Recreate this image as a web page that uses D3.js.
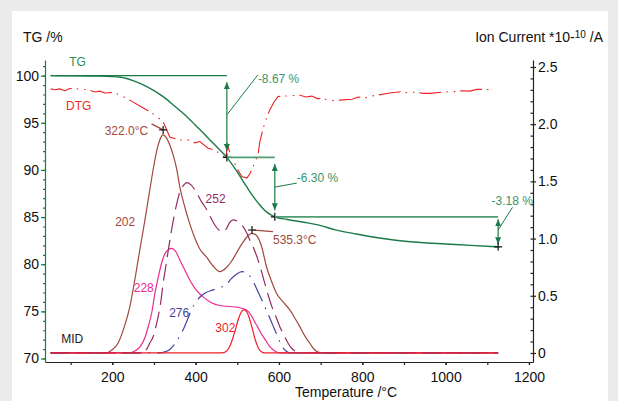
<!DOCTYPE html>
<html>
<head>
<meta charset="utf-8">
<script src="https://cdn.jsdelivr.net/npm/d3@7"></script>
<style>
  body { margin: 0; background: #ebebeb; }
  svg { display: block; font-family: "Liberation Sans", Arial, sans-serif; }
</style>
</head>
<body>
<svg width="618" height="401"></svg>
<script>
// ---- data ----
// TG mass curve (T in °C, mass %)
const tgData = [[52,100],[100,99.99],[170,99.95],[220,99.83],[250,99.47],[283,98.83],[322,97.77],[350,96.75],
  [379,95.65],[400,94.72],[427,93.53],[450,92.48],[475,91.33],[499,89.84],[522,88.25],[538,87.19],[554,86.29],
  [570,85.55],[590,85.03],[620,84.75],[660,84.45],[700,84.1],[735,83.64],[780,83.25],[829,82.86],[880,82.55],
  [940,82.3],[1000,82.15],[1060,82.0],[1126,81.85]];

// DTG (%/min)
const dtgData = [[52,-0.01],[62,-0.02],[74,-0.01],[86,-0.03],[98,-0.005],[118,-0.01],[142,-0.02],[158,-0.045],
  [170,-0.035],[182,-0.055],[197,-0.05],[211,-0.065],[226,-0.095],[242,-0.135],[266,-0.2],[283,-0.245],
  [302,-0.3],[322,-0.375],[338,-0.545],[362,-0.58],[379,-0.57],[398,-0.61],[410,-0.595],[430,-0.67],
  [446,-0.69],[463,-0.745],[473,-0.78],[476,-0.61],[480,-0.69],[490,-0.8],[500,-0.9],[511,-0.985],[523,-1.0],
  [530,-0.955],[538,-0.875],[550,-0.735],[554,-0.6],[562,-0.45],[571,-0.32],[578,-0.245],[588,-0.155],
  [598,-0.095],[614,-0.09],[631,-0.085],[650,-0.08],[665,-0.1],[679,-0.09],[694,-0.12],[703,-0.11],
  [718,-0.14],[746,-0.135],[775,-0.125],[790,-0.1],[806,-0.11],[821,-0.09],[835,-0.08],[866,-0.055],
  [895,-0.04],[910,-0.055],[929,-0.045],[946,-0.06],[962,-0.06],[994,-0.045],[1022,-0.04],[1039,-0.03],
  [1058,-0.035],[1075,-0.015],[1090,-0.015],[1113,-0.02]];

// MID ion currents (*10^-10 A)
const m202 = [[52,0],[185,0],[199,0.026],[214,0.087],[228,0.219],[242,0.402],[254,0.638],[266,0.9],[278,1.154],
  [290,1.425],[300,1.643],[307,1.774],[314,1.862],[322,1.906],[330,1.88],[338,1.818],[346,1.731],[355,1.6],
  [362,1.451],[374,1.276],[386,1.128],[398,1.005],[410,0.909],[426,0.839],[442,0.76],[458,0.711],[473,0.743],
  [485,0.795],[498,0.874],[511,0.953],[523,1.014],[535,1.046],[545,1.031],[558,0.935],[570,0.754],[581,0.638],
  [594,0.522],[610,0.446],[626,0.376],[638,0.306],[650,0.23],[662,0.149],[674,0.085],[686,0.026],[698,0.004],
  [710,0],[1126,0]];
const m228 = [[52,0],[238,0],[254,0.017],[266,0.052],[278,0.131],[286,0.227],[295,0.358],[302,0.516],[310,0.656],
  [319,0.795],[329,0.883],[342,0.915],[353,0.883],[362,0.813],[374,0.726],[386,0.638],[401,0.551],[418,0.49],
  [439,0.437],[458,0.415],[482,0.406],[502,0.398],[522,0.376],[533,0.332],[542,0.271],[550,0.219],[558,0.166],
  [569,0.105],[578,0.055],[590,0.017],[602,0],[1126,0]];
const m252 = [[52,0],[262,0],[274,0.013],[283,0.035],[290,0.087],[298,0.142],[305,0.236],[310,0.317],[317,0.463],
  [322,0.609],[329,0.769],[334,0.89],[343,1.09],[348,1.19],[355,1.309],[362,1.407],[370,1.46],[379,1.489],
  [389,1.469],[403,1.396],[413,1.329],[427,1.25],[437,1.18],[446,1.119],[456,1.075],[466,1.06],[475,1.093],
  [482,1.141],[490,1.163],[499,1.154],[511,1.119],[521,1.062],[530,0.988],[538,0.927],[547,0.842],[557,0.726],
  [566,0.609],[574,0.507],[583,0.405],[593,0.315],[602,0.23],[612,0.157],[622,0.085],[631,0.039],[641,0.013],
  [653,0],[1126,0]];
const m276 = [[52,0],[314,0],[326,0.009],[338,0.031],[350,0.079],[362,0.149],[372,0.219],[382,0.306],[391,0.385],
  [401,0.446],[413,0.498],[425,0.529],[442,0.551],[458,0.573],[473,0.594],[485,0.647],[497,0.686],[511,0.711],
  [521,0.704],[530,0.673],[540,0.612],[550,0.533],[559,0.463],[569,0.38],[578,0.306],[588,0.219],[598,0.131],
  [607,0.061],[617,0.017],[626,0],[1126,0]];
const m302 = [[52,0],[463,0],[473,0.013],[480,0.044],[487,0.105],[494.5,0.192],[502,0.288],[509,0.354],[515,0.376],
  [522,0.363],[528,0.315],[535,0.227],[542.5,0.122],[550,0.048],[557,0.013],[566,0],[1126,0]];

const seriesNames = ["202", "228", "252", "276", "302"];
const seriesData = [m202, m228, m252, m276, m302];

// TG steps
const stepStart = [52, 475, 590];
const stepEnd = [475, 590, 1126];
const stepFrom = [100, 91.33, 85.03];
const stepTo = [91.33, 85.03, 81.85];
const stepLabels = ["-8.67 %", "-6.30 %", "-3.18 %"];

// peaks of m/z 202
const peakT = [322.0, 535.3];
const peakIon = [1.95, 1.075];
const peakLabels = ["322.0°C", "535.3°C"];

// ticks
const xTicks = [200, 400, 600, 800, 1000, 1200];
const tgTicks = [70, 75, 80, 85, 90, 95, 100];
const ionTicks = [0, 0.5, 1.0, 1.5, 2.0, 2.5];

// ---- styles / layout ----
const green = "#1b7b48", greenText = "#3a9468";
const seriesColor = ["#a2483c", "#ec2a8e", "#962a66", "#43439f", "#f01e28"];
const seriesDash = [null, null, "17,7", "20,7,1.5,7", null];
const seriesLabelAt = [[231, 1.113], [275.6, 0.533], [448, 1.307], [360.6, 0.315], [471.4, 0.184]];
// [fraction along arrow, leader dx, leader dy, text dx, text dy]
const leaderLayout = [[0.48, 31, -40, 0, 8], [0.5, 22, -4, 0, -1.2], [0.44, 14.4, -22.7, -21, -2.3]];

const svg = d3.select("svg");
svg.append("rect").attr("x", 12).attr("y", 11).attr("width", 596).attr("height", 400).attr("fill", "#fff");

const x = d3.scaleLinear().domain([38.5, 1209.7]).range([45, 533]);
const yTG = d3.scaleLinear().domain([69.63, 101.66]).range([362, 60]);
const yIon = d3.scaleLinear().domain([-0.079, 2.561]).range([362, 60]);
const yDTG = d3.scaleLinear().domain([0, -1]).range([88, 178]);

// axes
function styleAxis(g, col) {
  g.selectAll("path,line").attr("stroke", col).attr("stroke-width", 1.2);
  g.selectAll("text").attr("fill", "#111").style("font-size", "14px").style("font-family", "Liberation Sans, Arial, sans-serif");
}
svg.append("g").attr("transform", "translate(0,362)")
  .call(d3.axisBottom(x).tickValues(d3.range(100, 1201, 100)).tickSize(3).tickSizeOuter(0).tickFormat(""))
  .call(g => styleAxis(g, "#222"));
svg.append("g").attr("transform", "translate(0,362)")
  .call(d3.axisBottom(x).tickValues(xTicks).tickSize(3).tickSizeOuter(0).tickPadding(7).tickFormat(d3.format("d")))
  .call(g => { styleAxis(g, "#222"); g.select(".domain").remove(); });

svg.append("g").attr("transform", "translate(45,0)")
  .call(d3.axisLeft(yTG).tickValues(d3.range(70, 102, 1)).tickSize(2).tickSizeOuter(0).tickFormat(""))
  .call(g => styleAxis(g, green));
svg.append("g").attr("transform", "translate(45,0)")
  .call(d3.axisLeft(yTG).tickValues(tgTicks).tickSize(4).tickSizeOuter(0).tickPadding(2))
  .call(g => { styleAxis(g, green); g.select(".domain").remove(); });

svg.append("g").attr("transform", "translate(533,0)")
  .call(d3.axisRight(yIon).tickValues(d3.range(0, 2.55, 0.1)).tickSize(-2.5).tickSizeOuter(0).tickFormat(""))
  .call(g => styleAxis(g, "#222"));
svg.append("g").attr("transform", "translate(533,0)")
  .call(d3.axisRight(yIon).tickValues(ionTicks).tickSize(3).tickSizeOuter(0).tickPadding(2)
    .tickFormat(d => d === 0 ? "0" : d.toFixed(1)))
  .call(g => { styleAxis(g, "#222"); g.select(".domain").remove(); });

// axis titles
svg.append("text").attr("x", 23).attr("y", 42).attr("font-size", 14).attr("fill", "#111").text("TG /%");
const ionTitle = svg.append("text").attr("x", 603).attr("y", 42).attr("font-size", 14)
  .attr("fill", "#111").attr("text-anchor", "end");
ionTitle.append("tspan").text("Ion Current *10-");
ionTitle.append("tspan").attr("font-size", 10).attr("dy", -4).text("10");
ionTitle.append("tspan").attr("dy", 4).text(" /A");
svg.append("text").attr("x", 346).attr("y", 397).attr("font-size", 14).attr("fill", "#111")
  .attr("text-anchor", "middle").text("Temperature /°C");

// MID curves
const ionLine = d3.line().x(d => x(d[0])).y(d => yIon(d[1])).curve(d3.curveMonotoneX);
seriesData.forEach((s, i) => {
  svg.append("path").datum(s).attr("d", ionLine).attr("fill", "none")
    .attr("stroke", seriesColor[i]).attr("stroke-width", 1.2)
    .attr("stroke-dasharray", seriesDash[i]);
  svg.append("text").attr("x", x(seriesLabelAt[i][0])).attr("y", yIon(seriesLabelAt[i][1]))
    .attr("text-anchor", "middle").attr("font-size", 12).attr("fill", seriesColor[i]).text(seriesNames[i]);
});

// DTG
svg.append("path").datum(dtgData)
  .attr("d", d3.line().x(d => x(d[0])).y(d => yDTG(d[1])))
  .attr("fill", "none").attr("stroke", "#ee2026").attr("stroke-width", 1.1)
  .attr("stroke-dasharray", "22,5,1.5,6,1.5,5");

// TG
svg.append("path").datum(tgData)
  .attr("d", d3.line().x(d => x(d[0])).y(d => yTG(d[1])).curve(d3.curveMonotoneX))
  .attr("fill", "none").attr("stroke", green).attr("stroke-width", 1.4);

// step annotations
svg.append("defs").append("marker").attr("id", "arr")
  .attr("markerUnits", "userSpaceOnUse").attr("markerWidth", 8).attr("markerHeight", 6)
  .attr("refX", 7).attr("refY", 3).attr("orient", "auto-start-reverse")
  .append("path").attr("d", "M0,0L7,3L0,6z").attr("fill", green);

const cross = "M-4,0H4M0,-4V4";
stepStart.forEach((t0, i) => {
  const t1 = stepEnd[i];
  const yA = yTG(stepFrom[i]), yB = yTG(stepTo[i]);
  const gap = i === 2 ? 2.5 : 6.5;
  svg.append("line").attr("x1", x(t0)).attr("x2", x(t1)).attr("y1", yA).attr("y2", yA)
    .attr("stroke", i === 0 ? green : "#4f9d73").attr("stroke-width", i === 0 ? 1.3 : 1.8);
  svg.append("line").attr("x1", x(t1)).attr("x2", x(t1)).attr("y1", yA + gap).attr("y2", yB - gap)
    .attr("stroke", green).attr("stroke-width", 1.2)
    .attr("marker-start", "url(#arr)").attr("marker-end", "url(#arr)");
  const L = leaderLayout[i];
  const lx = x(t1), ly = yA + (yB - yA) * L[0];
  svg.append("line").attr("x1", lx).attr("y1", ly).attr("x2", lx + L[1]).attr("y2", ly + L[2])
    .attr("stroke", green).attr("stroke-width", 1);
  svg.append("text").attr("x", lx + L[1] + L[3]).attr("y", ly + L[2] + L[4])
    .attr("font-size", 12).attr("fill", greenText).text(stepLabels[i]);
  svg.append("path").attr("d", cross).attr("transform", `translate(${x(t1)},${yB})`)
    .attr("stroke", "#111").attr("stroke-width", 1.2);
});

// peak markers
peakT.forEach((t, i) => {
  const px = x(t), py = yIon(peakIon[i]);
  const brown = seriesColor[0];
  if (i === 0) {
    svg.append("line").attr("x1", px).attr("y1", py).attr("x2", px - 11.6).attr("y2", py - 6)
      .attr("stroke", brown).attr("stroke-width", 1.2);
    svg.append("text").attr("x", px - 15).attr("y", py + 5.5).attr("text-anchor", "end")
      .attr("font-size", 12).attr("fill", brown).text(peakLabels[i]);
  } else {
    svg.append("line").attr("x1", px).attr("y1", py).attr("x2", px + 21).attr("y2", py + 1.7)
      .attr("stroke", brown).attr("stroke-width", 1.2);
    svg.append("text").attr("x", px + 21).attr("y", py + 14)
      .attr("font-size", 12).attr("fill", brown).text(peakLabels[i]);
  }
  svg.append("path").attr("d", cross).attr("transform", `translate(${px},${py})`)
    .attr("stroke", "#111").attr("stroke-width", 1.2);
});

// curve group labels
svg.append("text").attr("x", x(116.5)).attr("y", yTG(101.07)).attr("text-anchor", "middle")
  .attr("font-size", 12).attr("fill", "#2e8b57").text("TG");
svg.append("text").attr("x", x(119.6)).attr("y", yTG(96.36)).attr("text-anchor", "middle")
  .attr("font-size", 12).attr("fill", "#ee2a2a").text("DTG");
svg.append("text").attr("x", x(103.8)).attr("y", yIon(0.083)).attr("text-anchor", "middle")
  .attr("font-size", 12).attr("fill", "#222").text("MID");
</script>
</body>
</html>
